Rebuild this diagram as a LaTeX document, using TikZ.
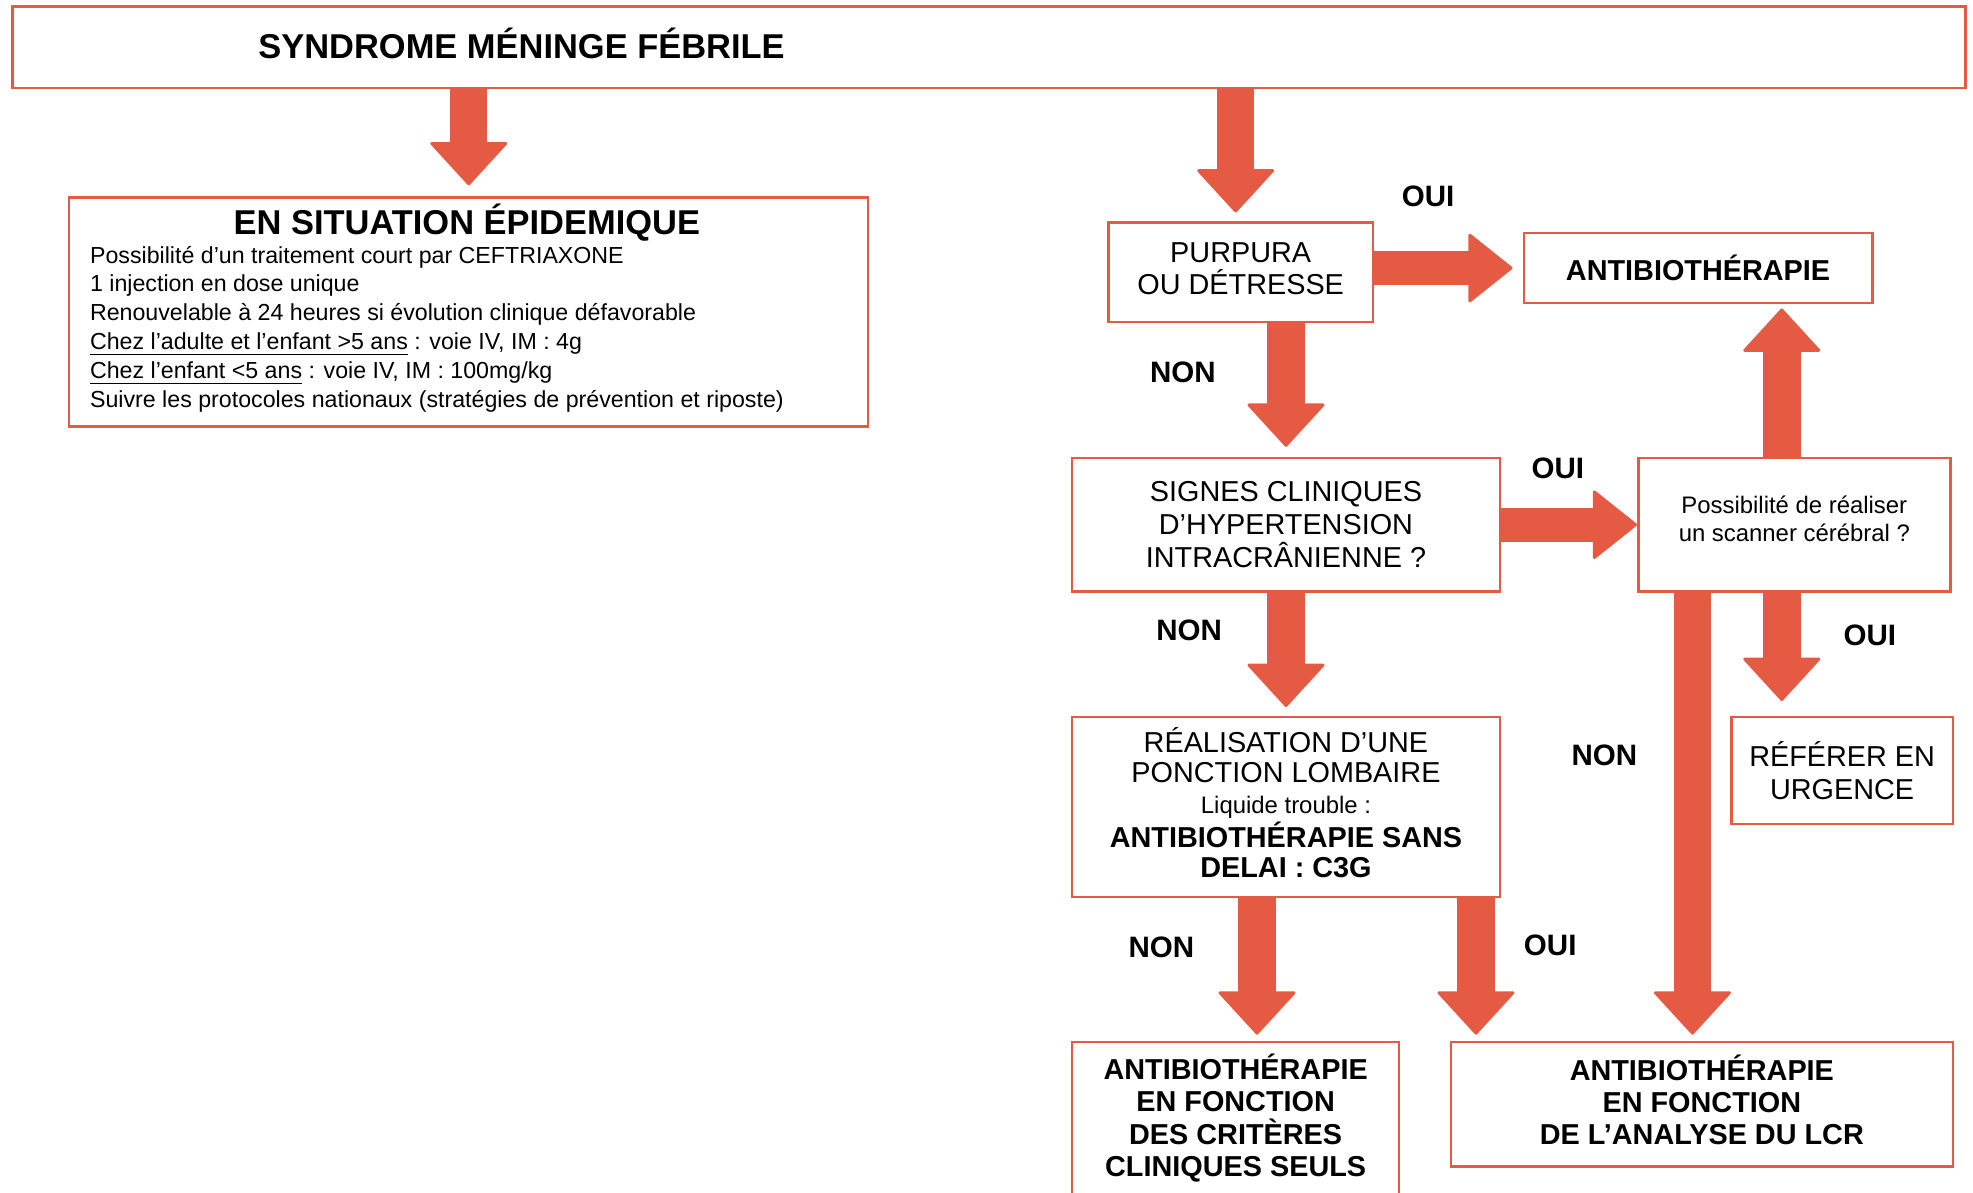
\documentclass[tikz,border=0pt]{standalone}
\usepackage{fontspec}
\setmainfont{Liberation Sans}
\usetikzlibrary{arrows.meta}
\usetikzlibrary{calc}

\definecolor{rouge}{RGB}{229,90,66}
\newlength{\pxl}
\setlength{\pxl}{0.12583mm}

\begin{document}
\begin{tikzpicture}[x=0.12583mm, y=-0.12583mm,
		boite/.style={draw=rouge, line width=0.7pt, inner sep=0pt, align=center, font=\fontsize{8.2}{9.3}\selectfont},
		grasbox/.style={boite, font=\fontsize{8.2}{9.2}\selectfont\bfseries},
		fleche/.style={draw=rouge, line width=3.75mm, -{Triangle[width=8mm, length=4.4mm, line width=0.8pt, round]}},
		flechecote/.style={draw=rouge, line width=3.4mm, -{Triangle[width=7.1mm, length=4.5mm, line width=0.8pt, round]}},
		ouinon/.style={font=\fontsize{8.4}{10}\selectfont\bfseries}]
		\useasboundingbox (0,0) rectangle (1568,948);
		% en-tete
		\node[boite, minimum width=1552\pxl, minimum height=65\pxl] (haut) at (786,37.5) {};
		\node[font=\fontsize{9.8}{12}\selectfont\bfseries] (titre) at (414.5,34.5) {SYNDROME MÉNINGE FÉBRILE};
		% situation epidemique
		\node[boite, minimum width=635\pxl, minimum height=182\pxl] (epi) at (372.5,248) {};
		\node[font=\fontsize{9.8}{12}\selectfont\bfseries] (epititre) at (371,177) {EN SITUATION ÉPIDEMIQUE};
		\node[anchor=north west, inner sep=0pt, align=left, font=\fontsize{6.6}{8.2}\selectfont] (epitexte) at (71,195) {Possibilité d’un traitement court par CEFTRIAXONE\\
			1 injection en dose unique\\
			Renouvelable à 24 heures si évolution clinique défavorable\\
			\underline{Chez l’adulte et l’enfant >5 ans} : voie IV, IM : 4g\\
			\underline{Chez l’enfant <5 ans} : voie IV, IM : 100mg/kg\\
			Suivre les protocoles nationaux (stratégies de prévention et riposte)};
		% arbre de decision
		\node[boite, minimum width=210\pxl, minimum height=79\pxl, text depth=0.75mm] (purpura) at (986,216.5) {PURPURA\\OU DÉTRESSE};
		\node[grasbox, minimum width=277\pxl, minimum height=56\pxl] (antibio) at (1349.5,213) {ANTIBIOTHÉRAPIE};
		\node[boite, minimum width=340\pxl, minimum height=106\pxl] (signes) at (1022,417) {SIGNES CLINIQUES\\D’HYPERTENSION\\INTRACRÂNIENNE ?};
		\node[boite, minimum width=248\pxl, minimum height=106\pxl, font=\fontsize{6.8}{7.9}\selectfont, text depth=1.26mm] (scanner) at (1426,417) {Possibilité de réaliser\\un scanner cérébral ?};
		\node[boite, minimum width=176\pxl, minimum height=85\pxl] (referer) at (1464,612.5) {RÉFÉRER EN\\URGENCE};
		\node[boite, minimum width=340\pxl, minimum height=143\pxl, font=\fontsize{8.2}{8.65}\selectfont, text depth=0.9mm] (ponction) at (1022,641.5) {RÉALISATION D’UNE\\PONCTION LOMBAIRE\\{\fontsize{6.8}{8}\selectfont Liquide trouble :}\\{\bfseries ANTIBIOTHÉRAPIE SANS}\\{\bfseries DELAI : C3G}};
		\node[grasbox, minimum width=260\pxl, minimum height=125\pxl, text depth=1.05mm] (criteres) at (982,890.5) {ANTIBIOTHÉRAPIE\\EN FONCTION\\DES CRITÈRES\\CLINIQUES SEULS};
		\node[grasbox, minimum width=399\pxl, minimum height=99\pxl, text depth=0.9mm] (lcr) at (1352.5,877.5) {ANTIBIOTHÉRAPIE\\EN FONCTION\\DE L’ANALYSE DU LCR};
		\coordinate (pp) at ($(purpura.north)+(-4,0)$);
		\coordinate (sc) at ($(scanner.north)+(-10,0)$);
		\coordinate (sc2) at ($(scanner.south)+(-10,0)$);
		\coordinate (sc3) at ($(scanner.south west)+(44,0)$);
		\coordinate (pl) at ($(ponction.south)+(-23,0)$);
		\coordinate (pl2) at ($(ponction.south east)+(-20,0)$);
		\draw[fleche, shorten >=1.1mm] (haut.south -| epi.north) -- (epi.north);
		\draw[fleche, shorten >=0.9mm] (haut.south -| pp) -- (pp);
		\draw[flechecote, shorten >=1mm] (purpura.east |- antibio.west) -- (antibio.west);
		\draw[fleche, shorten >=1mm] (signes.north |- purpura.south) -- (signes.north);
		\draw[flechecote] (signes.east) -- (scanner.west);
		\draw[fleche, shorten >=0.4mm] (sc) -- (sc |- antibio.south);
		\draw[fleche, shorten >=1.5mm] (sc2) -- (sc2 |- referer.north);
		\draw[fleche, shorten >=0.6mm] (sc3) -- (sc3 |- lcr.north);
		\draw[fleche, shorten >=0.9mm] (signes.south) -- (ponction.north);
		\draw[fleche, shorten >=0.6mm] (pl) -- (pl |- criteres.north);
		\draw[fleche, shorten >=0.6mm] (pl2) -- (pl2 |- lcr.north);
		% oui / non
		\node[ouinon] (oui1) at (1135,156) {OUI};
		\node[ouinon] (non1) at (940,296) {NON};
		\node[ouinon] (oui2) at (1238,372) {OUI};
		\node[ouinon] (non2) at (945,501) {NON};
		\node[ouinon] (oui3) at (1486,505) {OUI};
		\node[ouinon] (non3) at (1275,600) {NON};
		\node[ouinon] (non4) at (923,753) {NON};
		\node[ouinon] (oui4) at (1232,751) {OUI};
	\end{tikzpicture}
\end{document}
